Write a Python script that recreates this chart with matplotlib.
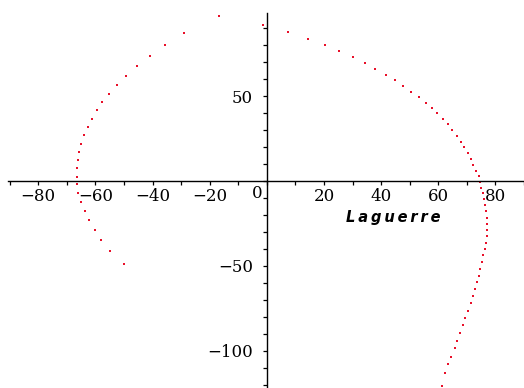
import matplotlib
matplotlib.use("Agg")
import matplotlib.pyplot as plt
import numpy as np

# Laguerre root locus, left branch (top to bottom)
left_x = [-16.8, -28.9, -35.8, -40.8, -45.6, -49.2, -52.4, -55.2, -57.6, -59.4,
          -61.3, -62.6, -64.0, -64.9, -65.8, -66.2, -66.3, -66.3, -66.3, -66.0,
          -65.0, -63.5, -62.1, -60.2, -58.0, -54.8, -50.1]
left_y = [97.2, 86.9, 80.0, 73.5, 67.6, 61.8, 56.5, 51.4, 46.6, 41.6,
          36.3, 31.8, 26.9, 21.8, 17.1, 12.4, 7.8, 2.5, -1.9, -7.1,
          -12.5, -17.8, -22.9, -28.8, -34.7, -41.0, -48.6]

# right branch (top to bottom)
right_x = [-1.4, 7.4, 14.3, 20.4, 25.4, 30.1, 34.4, 38.0, 41.6, 44.9,
           47.7, 50.5, 53.1, 55.6, 57.8, 59.7, 61.5, 63.3, 64.8, 66.7,
           68.1, 69.0, 70.4, 71.3, 72.3, 73.2, 74.1, 74.7, 75.1, 75.5,
           75.9, 76.5, 76.7, 76.9, 76.9, 76.9, 76.9, 76.7, 76.5, 75.8,
           75.4, 74.6, 74.1, 73.7, 72.7, 72.1, 71.3, 70.4, 69.5, 68.5,
           67.6, 66.7, 65.7, 64.3, 63.4, 62.3, 61.2]
right_y = [91.8, 87.4, 83.4, 79.8, 76.3, 72.8, 69.4, 65.9, 62.4, 59.4,
           55.9, 52.5, 49.6, 46.1, 42.8, 39.8, 36.3, 33.4, 30.0, 26.5,
           22.8, 20.0, 16.5, 12.9, 9.4, 6.1, 3.1, -0.6, -3.9, -7.1,
           -10.6, -13.9, -17.8, -21.8, -25.3, -28.8, -32.5, -36.3, -40.0, -43.7,
           -47.8, -51.6, -55.7, -59.6, -63.7, -67.8, -71.9, -76.3, -80.6, -84.9,
           -89.4, -93.9, -98.2, -103.4, -107.6, -112.8, -120.6]

xticks_major = [-80, -60, -40, -20, 20, 40, 60, 80]
yticks_major = [50, -50, -100]
x_title = "Laguerre"

fig = plt.figure(figsize=(5.24, 3.88), dpi=100)
ax = fig.add_axes([0, 0, 1, 1])

pt_color = "#e8102a"
ax.plot(left_x, left_y, "s", color=pt_color, ms=2.0, mew=0)
ax.plot(right_x, right_y, "s", color=pt_color, ms=2.0, mew=0)

ax.set_xlim(-93.4, 89.9)
ax.set_ylim(-121.8, 106.5)

# axes crossing at the origin
for side in ("top", "right"):
    ax.spines[side].set_visible(False)
ax.spines["left"].set_position(("data", 0))
ax.spines["bottom"].set_position(("data", 0))
ax.spines["bottom"].set_bounds(-90.5, 89.9)
ax.spines["left"].set_bounds(-121.8, 98.8)
for s in ("left", "bottom"):
    ax.spines[s].set_linewidth(1.0)

def fmt(v):
    return f"{v}".replace("-", "\u2212")

tick_font = {"family": "DejaVu Serif", "size": 12}
ax.set_xticks(xticks_major)
ax.set_xticklabels([fmt(v) for v in xticks_major], fontdict=tick_font)
ax.set_xticks(np.arange(-90, 91, 10), minor=True)
ax.set_yticks(yticks_major)
ax.set_yticklabels([fmt(v) for v in yticks_major], fontdict=tick_font)
ax.set_yticks(np.arange(-120, 100, 10), minor=True)
ax.tick_params(which="both", direction="out", length=3, width=0.9)
ax.tick_params(axis="x", pad=2)
ax.tick_params(axis="y", pad=7)

# single origin label, set left of the vertical axis
ax.annotate("0", xy=(0, 0), xytext=(-7, -3), textcoords="offset points",
            ha="center", va="top", fontfamily="DejaVu Serif", fontsize=12)

# letter-spaced axis title (thin spaces between letters)
ax.text(44.4, -21.2, "\u2009".join(x_title), ha="center", va="center",
        style="italic", fontfamily="DejaVu Sans", fontsize=10.5, fontweight="bold")

fig.savefig("out.png", dpi=100)
